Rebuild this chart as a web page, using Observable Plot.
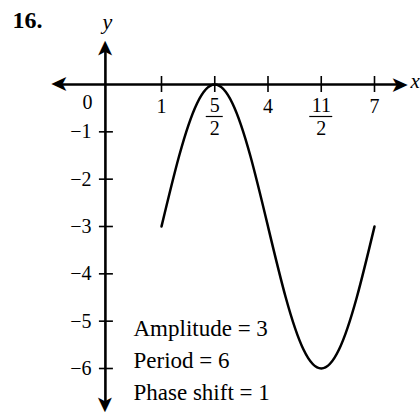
<!DOCTYPE html>
<html><head><meta charset="utf-8">
<script src="https://cdn.jsdelivr.net/npm/d3@7"></script>
<script src="https://cdn.jsdelivr.net/npm/@observablehq/plot@0.6"></script>
<style>html,body{margin:0;padding:0;background:#fff} svg{display:block}</style>
</head><body><div id="chart"></div>
<script>
// Curve points
const curveX = [1, 1.5, 2, 2.5, 3, 3.5, 4, 4.5, 5, 5.5, 6, 6.5, 7];
const curveY = [-3, -1.5, -0.4, 0, -0.4, -1.5, -3, -4.5, -5.6, -6, -5.6, -4.5, -3];
// Tick values and labels
const xTicks = [1, 2.5, 4, 5.5, 7];
const xTickLabels = ["1", "5/2", "4", "11/2", "7"];
const yTicks = [-1, -2, -3, -4, -5, -6];
const yTickLabels = ["\u22121", "\u22122", "\u22123", "\u22124", "\u22125", "\u22126"];
const originLabel = "0";
const notes = ["Amplitude = 3", "Period = 6", "Phase shift = 1"];
const figureNumber = "16.";
const xName = "x", yName = "y";

// Axis extents (layout)
const xAxisFrom = -2.13, xAxisTo = 7.96;
const yAxisAt = -0.58, yAxisFrom = -6.95, yAxisTo = 0.95;

const curve = curveX.map((x, i) => ({x, y: curveY[i]}));
const ticksX = xTicks.map((v, i) => ({v, label: xTickLabels[i]}));
const wholeX = ticksX.filter(d => !d.label.includes("/"));
const fracX = ticksX.filter(d => d.label.includes("/")).map(d => {
  const [num, den] = d.label.split("/");
  return {v: d.v, num, den};
});
const ticksY = yTicks.map((v, i) => ({v, label: yTickLabels[i]}));

const font = "'Liberation Serif', 'Times New Roman', serif";
const axisW = 2.6;
const arrowFont = 22;

const marks = [
  // axes lines
  Plot.ruleY([0], {x1: xAxisFrom + 0.3, x2: xAxisTo - 0.3, stroke: "#000", strokeWidth: axisW}),
  Plot.ruleX([yAxisAt], {y1: yAxisFrom + 0.25, y2: yAxisTo - 0.25, stroke: "#000", strokeWidth: axisW}),
  // arrowheads
  Plot.text([0], {x: xAxisTo, y: 0, text: () => "\u27A4", textAnchor: "end", lineAnchor: "middle", fontSize: arrowFont, fontFamily: "DejaVu Sans", fill: "#000"}),
  Plot.text([0], {x: xAxisFrom, y: 0, text: () => "\u27A4", textAnchor: "end", lineAnchor: "middle", rotate: 180, fontSize: arrowFont, fontFamily: "DejaVu Sans", fill: "#000"}),
  Plot.text([0], {x: yAxisAt, y: yAxisTo, text: () => "\u27A4", textAnchor: "end", lineAnchor: "middle", rotate: -90, fontSize: arrowFont, fontFamily: "DejaVu Sans", fill: "#000"}),
  Plot.text([0], {x: yAxisAt, y: yAxisFrom, text: () => "\u27A4", textAnchor: "end", lineAnchor: "middle", rotate: 90, fontSize: arrowFont, fontFamily: "DejaVu Sans", fill: "#000"}),
  // tick marks
  Plot.ruleX(ticksX, {x: "v", y1: 0, y2: 0, insetTop: -8, insetBottom: -8, stroke: "#000", strokeWidth: 1.6}),
  Plot.ruleY(ticksY, {y: "v", x1: yAxisAt, x2: yAxisAt, insetLeft: -6, insetRight: -8, stroke: "#000", strokeWidth: 1.6}),
  // x tick labels
  Plot.text(wholeX, {x: "v", y: 0, text: "label", dy: 22, lineAnchor: "middle", fontSize: 20, fill: "#000"}),
  Plot.text(fracX, {x: "v", y: 0, text: "num", dy: 21, lineAnchor: "middle", fontSize: 20, fill: "#000"}),
  Plot.text(fracX, {x: "v", y: 0, text: "den", dy: 44, lineAnchor: "middle", fontSize: 20, fill: "#000"}),
  ...fracX.map(d => Plot.ruleY([d], {y: 0, x1: "v", x2: "v", dy: 32, insetLeft: -(5.5 + 3 * d.num.length), insetRight: -(5.5 + 3 * d.num.length), stroke: "#000", strokeWidth: 1.2})),
  // y tick labels
  Plot.text(ticksY, {x: yAxisAt, y: "v", text: "label", textAnchor: "end", dx: -14, lineAnchor: "middle", fontSize: 20, fill: "#000"}),
  Plot.text([originLabel], {x: yAxisAt, y: 0, text: d => d, textAnchor: "end", dx: -13, dy: 18, lineAnchor: "middle", fontSize: 20, fill: "#000"}),
  // axis names
  Plot.text([yName], {x: yAxisAt, frameAnchor: "top", text: d => d, dx: 2, dy: 21, lineAnchor: "middle", fontSize: 22, fontStyle: "italic", fill: "#000"}),
  Plot.text([xName], {x: xAxisTo, y: 0, text: d => d, textAnchor: "start", dx: 2, dy: -3, lineAnchor: "middle", fontSize: 21, fontStyle: "italic", fill: "#000"}),
  // curve
  Plot.line(curve, {x: "x", y: "y", curve: "natural", stroke: "#000", strokeWidth: 2.5}),
  // figure number
  Plot.text([figureNumber], {frameAnchor: "top-left", text: d => d, dx: 12, dy: 10, lineAnchor: "top", textAnchor: "start", fontSize: 24, fontWeight: "bold", fill: "#000"}),
  // notes
  Plot.text([notes.join("\n")], {frameAnchor: "top-left", text: d => d, dx: 133, dy: 312, lineAnchor: "top", textAnchor: "start", lineHeight: 1.41, fontSize: 23, fill: "#000"})
];

const chart = Plot.plot({
  width: 420, height: 415, margin: 0,
  x: {domain: [1, 7], range: [161, 374], axis: null},
  y: {domain: [0, -6], range: [84, 368], axis: null},
  style: {fontFamily: font, background: "#fff", color: "#000", overflow: "visible"},
  marks
});
document.getElementById("chart").append(chart);
</script>
</body></html>
